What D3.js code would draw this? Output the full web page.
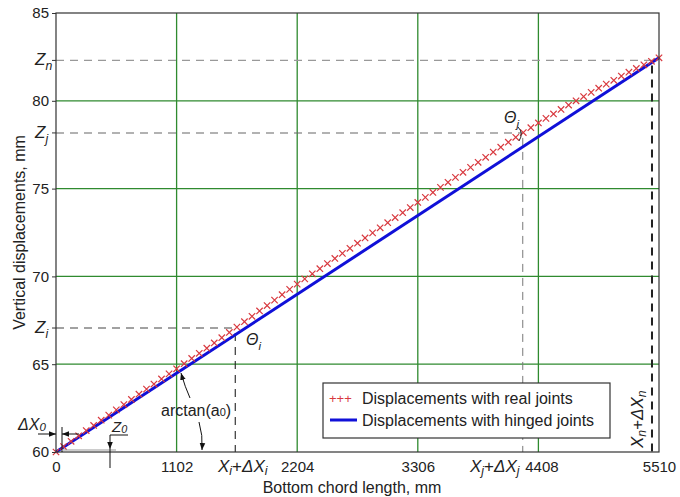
<!DOCTYPE html>
<html>
<head>
<meta charset="utf-8">
<script src="https://cdn.jsdelivr.net/npm/d3@7"></script>
<style>
  body { margin: 0; background: #fff; }
  svg { font-family: "Liberation Sans", Arial, sans-serif; }
</style>
</head>
<body>
<svg id="chart" width="680" height="497"></svg>
<script>
// bottom chord positions of the joints, mm
var realX = [0,69,138,207,276,344,413,482,551,620,689,758,827,895,964,1033,
  1102,1171,1240,1309,1378,1446,1515,1584,1653,1722,1791,1860,1929,1997,2066,2135,
  2204,2273,2342,2411,2480,2548,2617,2686,2755,2824,2893,2962,3031,3099,3168,3237,
  3306,3375,3444,3513,3582,3650,3719,3788,3857,3926,3995,4064,4133,4201,4270,4339,
  4408,4477,4546,4615,4684,4752,4821,4890,4959,5028,5097,5166,5235,5303,5372,5441,5510];
// vertical displacements with real joints, mm
var realZ = [60.00,60.31,60.61,60.92,61.22,61.51,61.81,62.10,62.40,62.70,62.99,63.29,63.58,63.87,64.16,64.45,
  64.74,65.03,65.33,65.62,65.91,66.21,66.51,66.81,67.11,67.42,67.73,68.03,68.34,68.65,68.96,69.26,
  69.56,69.86,70.15,70.44,70.73,71.02,71.31,71.60,71.89,72.19,72.48,72.77,73.06,73.35,73.63,73.92,
  74.21,74.50,74.78,75.07,75.36,75.64,75.93,76.21,76.50,76.78,77.08,77.36,77.64,77.92,78.19,78.47,
  78.74,79.00,79.25,79.51,79.76,80.00,80.24,80.48,80.72,80.95,81.17,81.41,81.63,81.84,82.05,82.25,82.45];
// hinged joints: straight line
var hingedX = [0, 5510];
var hingedZ = [60, 82.45];

var xTicks = [0, 1102, 2204, 3306, 4408, 5510];
var yTicks = [60, 65, 70, 75, 80, 85];
var gridX = [1102, 2204, 3306, 4408];
var gridY = [65, 70, 75, 80];

// marked joints i, j, n
var markNames = ["i", "j", "n"];
var markX = [1638, 4265, 5446];
var markZ = [67.06, 78.17, 82.3];

var legendLabels = ["Displacements with real joints", "Displacements with hinged joints"];

var width = 680, height = 497;
var margin = {top: 13, right: 21, bottom: 45, left: 56};

var svg = d3.select("#chart");

var x = d3.scaleLinear().domain([0, 5510]).range([margin.left, width - margin.right]);
var y = d3.scaleLinear().domain([60, 85]).range([height - margin.bottom, margin.top]);

var defs = svg.append("defs");
defs.append("marker")
  .attr("id", "arr")
  .attr("viewBox", "0 0 10 10")
  .attr("refX", 10).attr("refY", 5)
  .attr("markerWidth", 7).attr("markerHeight", 7)
  .attr("markerUnits", "userSpaceOnUse")
  .attr("orient", "auto")
  .append("path").attr("d", "M0,1 L10,5 L0,9 Z").attr("fill", "#111");

function richText(sel, parts, size, drop) {
  var shift = 0;
  if (drop === undefined) drop = Math.round(size * 0.3);
  parts.forEach(function(p) {
    var want = p[2] ? drop : 0;
    sel.append("tspan").text(p[0])
      .attr("dy", want - shift)
      .style("font-style", p[1] ? "italic" : "normal")
      .style("font-size", (p[2] ? size * 0.72 : size) + "px");
    shift = want;
  });
}

// grid
svg.append("g").selectAll("line").data(gridX).enter().append("line")
  .attr("x1", function(d) { return x(d); }).attr("x2", function(d) { return x(d); })
  .attr("y1", y(60)).attr("y2", y(85))
  .attr("stroke", "#2f8a2f").attr("stroke-width", 1.3);
svg.append("g").selectAll("line").data(gridY).enter().append("line")
  .attr("y1", function(d) { return y(d); }).attr("y2", function(d) { return y(d); })
  .attr("x1", x(0)).attr("x2", x(5510))
  .attr("stroke", "#2f8a2f").attr("stroke-width", 1.3);

// dashed guides
var hColors = ["#444", "#666", "#999"];
var vColors = ["#222", "#777", "#222"];
var vWidths = [1.1, 1, 2];
markNames.forEach(function(n, k) {
  svg.append("line")
    .attr("x1", x(0)).attr("x2", x(markX[k]))
    .attr("y1", y(markZ[k])).attr("y2", y(markZ[k]))
    .attr("stroke", hColors[k]).attr("stroke-width", 1.1)
    .attr("stroke-dasharray", "8,6");
  svg.append("line")
    .attr("x1", x(markX[k])).attr("x2", x(markX[k]))
    .attr("y1", y(markZ[k]) + 5).attr("y2", y(60))
    .attr("stroke", vColors[k]).attr("stroke-width", vWidths[k])
    .attr("stroke-dasharray", "8,6");
});

// hinged line
var line = d3.line().x(function(d) { return x(d[0]); }).y(function(d) { return y(d[1]); });
svg.append("path")
  .datum(d3.zip(hingedX, hingedZ))
  .attr("d", line)
  .attr("fill", "none").attr("stroke", "#1010d8").attr("stroke-width", 3);

// real joints crosses
var s = 3.2;
svg.append("g").selectAll("path").data(d3.zip(realX, realZ)).enter().append("path")
  .attr("d", function(d) {
    var cx = x(d[0]), cy = y(d[1]);
    return "M" + (cx - s) + "," + (cy - s) + "L" + (cx + s) + "," + (cy + s) +
           "M" + (cx - s) + "," + (cy + s) + "L" + (cx + s) + "," + (cy - s);
  })
  .attr("stroke", "#d8393f").attr("stroke-width", 1.2).attr("fill", "none");

// frame
svg.append("rect")
  .attr("x", x(0)).attr("y", y(85))
  .attr("width", x(5510) - x(0)).attr("height", y(60) - y(85))
  .attr("fill", "none").attr("stroke", "#333").attr("stroke-width", 1.2);

// axes
var yAxis = svg.append("g")
  .attr("transform", "translate(" + x(0) + ",0)")
  .call(d3.axisLeft(y).tickValues(yTicks).tickFormat(d3.format("d")).tickSize(4).tickPadding(3));
var xAxis = svg.append("g")
  .attr("transform", "translate(0," + y(60) + ")")
  .call(d3.axisBottom(x).tickValues(xTicks).tickFormat(d3.format("d")).tickSize(0).tickPadding(9));
[xAxis, yAxis].forEach(function(a) {
  a.select(".domain").remove();
  a.selectAll("text").attr("fill", "#222").style("font-size", "15px").attr("font-family", null);
  a.selectAll("line").attr("stroke", "#333");
});
xAxis.selectAll(".tick").filter(function(d) { return d === 4408; })
  .select("text").attr("dx", 3);

// Z labels on y axis
markNames.forEach(function(n, k) {
  svg.append("line")
    .attr("x1", x(0) - 4).attr("x2", x(0))
    .attr("y1", y(markZ[k])).attr("y2", y(markZ[k]))
    .attr("stroke", "#333");
  var t = svg.append("text").attr("x", 35).attr("y", y(markZ[k]) + 5).attr("fill", "#222");
  richText(t, [["Z", true, false], [n, true, true]], 17);
});

// X labels on x axis
var xi = svg.append("text").attr("x", 218).attr("y", 472).attr("fill", "#222");
richText(xi, [["X", true, false], ["i", true, true], ["+", false, false], ["ΔX", true, false], ["i", true, true]], 17, 3);
var xj = svg.append("text").attr("x", 470).attr("y", 472).attr("fill", "#222");
richText(xj, [["X", true, false], ["j", true, true], ["+", false, false], ["ΔX", true, false], ["j", true, true]], 17, 3);
var xn = svg.append("text")
  .attr("transform", "translate(643,448) rotate(-90)")
  .attr("fill", "#222");
richText(xn, [["X", true, false], ["n", true, true], ["+", false, false], ["ΔX", true, false], ["n", true, true]], 17, 3);

// axis titles
svg.append("text")
  .attr("x", 352).attr("y", 493)
  .attr("text-anchor", "middle").attr("fill", "#222").style("font-size", "16px")
  .text("Bottom chord length, mm");
svg.append("text")
  .attr("transform", "translate(25," + ((y(60) + y(85)) / 2) + ") rotate(-90)")
  .attr("text-anchor", "middle").attr("fill", "#222").style("font-size", "16px")
  .text("Vertical displacements, mm");

// theta labels
var ti = svg.append("text").attr("x", 246).attr("y", 345).attr("fill", "#222");
richText(ti, [["Θ", true, false], ["i", true, true]], 16);
var tj = svg.append("text").attr("x", 504).attr("y", 123).attr("fill", "#222");
richText(tj, [["Θ", true, false], ["j", true, true]], 16);
svg.append("path")
  .attr("d", "M518,127 Q524,133 519,141")
  .attr("fill", "none").attr("stroke", "#222").attr("stroke-width", 1);

// arctan(a0) with arrows
var at = svg.append("text").attr("x", 161).attr("y", 416).attr("fill", "#222").style("font-size", "16px");
at.append("tspan").text("arctan(a");
at.append("tspan").text("0").style("font-size", "11px");
at.append("tspan").text(")");
svg.append("path")
  .attr("d", "M190,398 Q185,387 181,373")
  .attr("fill", "none").attr("stroke", "#111").attr("stroke-width", 1)
  .attr("marker-end", "url(#arr)");
svg.append("path")
  .attr("d", "M199,422 Q203,435 202,450")
  .attr("fill", "none").attr("stroke", "#111").attr("stroke-width", 1)
  .attr("marker-end", "url(#arr)");

// delta X0
var dx = svg.append("text").attr("x", 18).attr("y", 430).attr("fill", "#222");
richText(dx, [["ΔX", true, false], ["0", true, true]], 16, 1);
svg.append("line").attr("x1", 38).attr("x2", 56).attr("y1", 434).attr("y2", 434)
  .attr("stroke", "#111").attr("marker-end", "url(#arr)");
svg.append("line").attr("x1", 79).attr("x2", 62).attr("y1", 434).attr("y2", 434)
  .attr("stroke", "#111").attr("marker-end", "url(#arr)");
svg.append("line").attr("x1", 62).attr("x2", 62).attr("y1", 427).attr("y2", 452)
  .attr("stroke", "#111");

// Z0
svg.append("line").attr("x1", 62).attr("x2", 116).attr("y1", 450).attr("y2", 450)
  .attr("stroke", "#999").attr("stroke-width", 1.2);
var z0 = svg.append("text").attr("x", 112).attr("y", 432).attr("fill", "#222");
richText(z0, [["Z", true, false], ["0", true, true]], 15, 1);
svg.append("line").attr("x1", 110).attr("x2", 128).attr("y1", 435).attr("y2", 435)
  .attr("stroke", "#111");
svg.append("line").attr("x1", 110).attr("x2", 110).attr("y1", 435).attr("y2", 449)
  .attr("stroke", "#111").attr("marker-end", "url(#arr)");
svg.append("line").attr("x1", 110).attr("x2", 110).attr("y1", 449).attr("y2", 468)
  .attr("stroke", "#111");

// legend
var lg = svg.append("g").attr("transform", "translate(323,383)");
lg.append("rect").attr("width", 287).attr("height", 55)
  .attr("fill", "#fff").attr("stroke", "#333").attr("stroke-width", 1.2);
lg.append("text").attr("x", 6).attr("y", 20).attr("fill", "#d8393f")
  .style("font-size", "13px").text("+++");
lg.append("line").attr("x1", 7).attr("x2", 34).attr("y1", 37).attr("y2", 37)
  .attr("stroke", "#1010d8").attr("stroke-width", 3);
lg.selectAll("text.lab").data(legendLabels).enter().append("text")
  .attr("class", "lab")
  .attr("x", 39).attr("y", function(d, k) { return 21 + k * 22; })
  .attr("fill", "#222").style("font-size", "16px")
  .text(function(d) { return d; });
</script>
</body>
</html>
